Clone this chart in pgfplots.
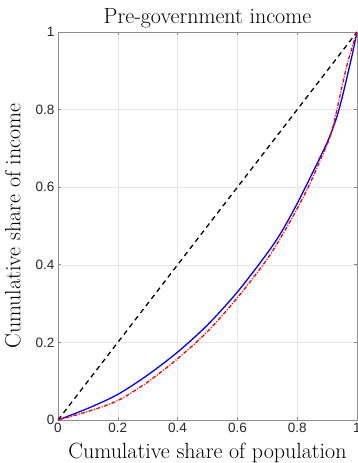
\documentclass[border=0pt]{standalone}
\usepackage{fontspec}
\usepackage{pgfplots}
\pgfplotsset{compat=1.18}
\newfontfamily\helv{Liberation Sans}
\begin{document}
\begin{tikzpicture}
\begin{axis}[name=ax, at={(0,0)}, anchor=south west,
  scale only axis, width=299pt, height=388pt,
  xmin=0, xmax=1, ymin=0, ymax=1,
  xtick={0,0.2,0.4,0.6,0.8,1}, ytick={0,0.2,0.4,0.6,0.8,1},
  grid=major, major grid style={black!10, line width=0.5pt},
  axis line style={black!45, line width=0.6pt},
  tick align=inside, major tick length=3pt, tick style={black!45, line width=0.6pt},
  ticklabel style={font=\helv\fontsize{13.5}{14}\selectfont, text=black!85},
  xticklabel style={yshift=0pt},
  /pgf/number format/assume math mode=true,
  title={Pre-government income},
  title style={font=\fontsize{22}{24}\selectfont, yshift=-6pt},
  xlabel={Cumulative share of population},
  ylabel={Cumulative share of income},
  label style={font=\fontsize{22}{24}\selectfont},
  xlabel style={yshift=-3pt},
  ylabel style={yshift=8pt},
]
\addplot[black, line width=1.3pt, dash pattern=on 5pt off 4pt] coordinates {(0,0) (1,1)};
\addplot[blue, line width=1.3pt, smooth] coordinates {
(0,0) (0.1,0.03) (0.2,0.066) (0.3,0.116) (0.4,0.175) (0.5,0.245) (0.6,0.330)
(0.7,0.430) (0.75,0.488) (0.8,0.558) (0.85,0.635) (0.9,0.715) (0.93,0.775)
(0.95,0.83) (0.97,0.895) (0.985,0.945) (1,1)};
\addplot[red, line width=1.3pt, dash pattern=on 4pt off 1.5pt on 1pt off 1.5pt, smooth] coordinates {
(0,0) (0.1,0.022) (0.2,0.05) (0.3,0.098) (0.4,0.158) (0.5,0.228) (0.6,0.315)
(0.7,0.415) (0.76,0.49) (0.8,0.545) (0.84,0.605) (0.88,0.675) (0.91,0.73)
(0.93,0.79) (0.95,0.86) (0.97,0.925) (1,1)};
\end{axis}
\pgfresetboundingbox
\path[use as bounding box] ([xshift=-58pt,yshift=-43pt]ax.south west) rectangle ([yshift=32pt]ax.north east);
\end{tikzpicture}
\end{document}
